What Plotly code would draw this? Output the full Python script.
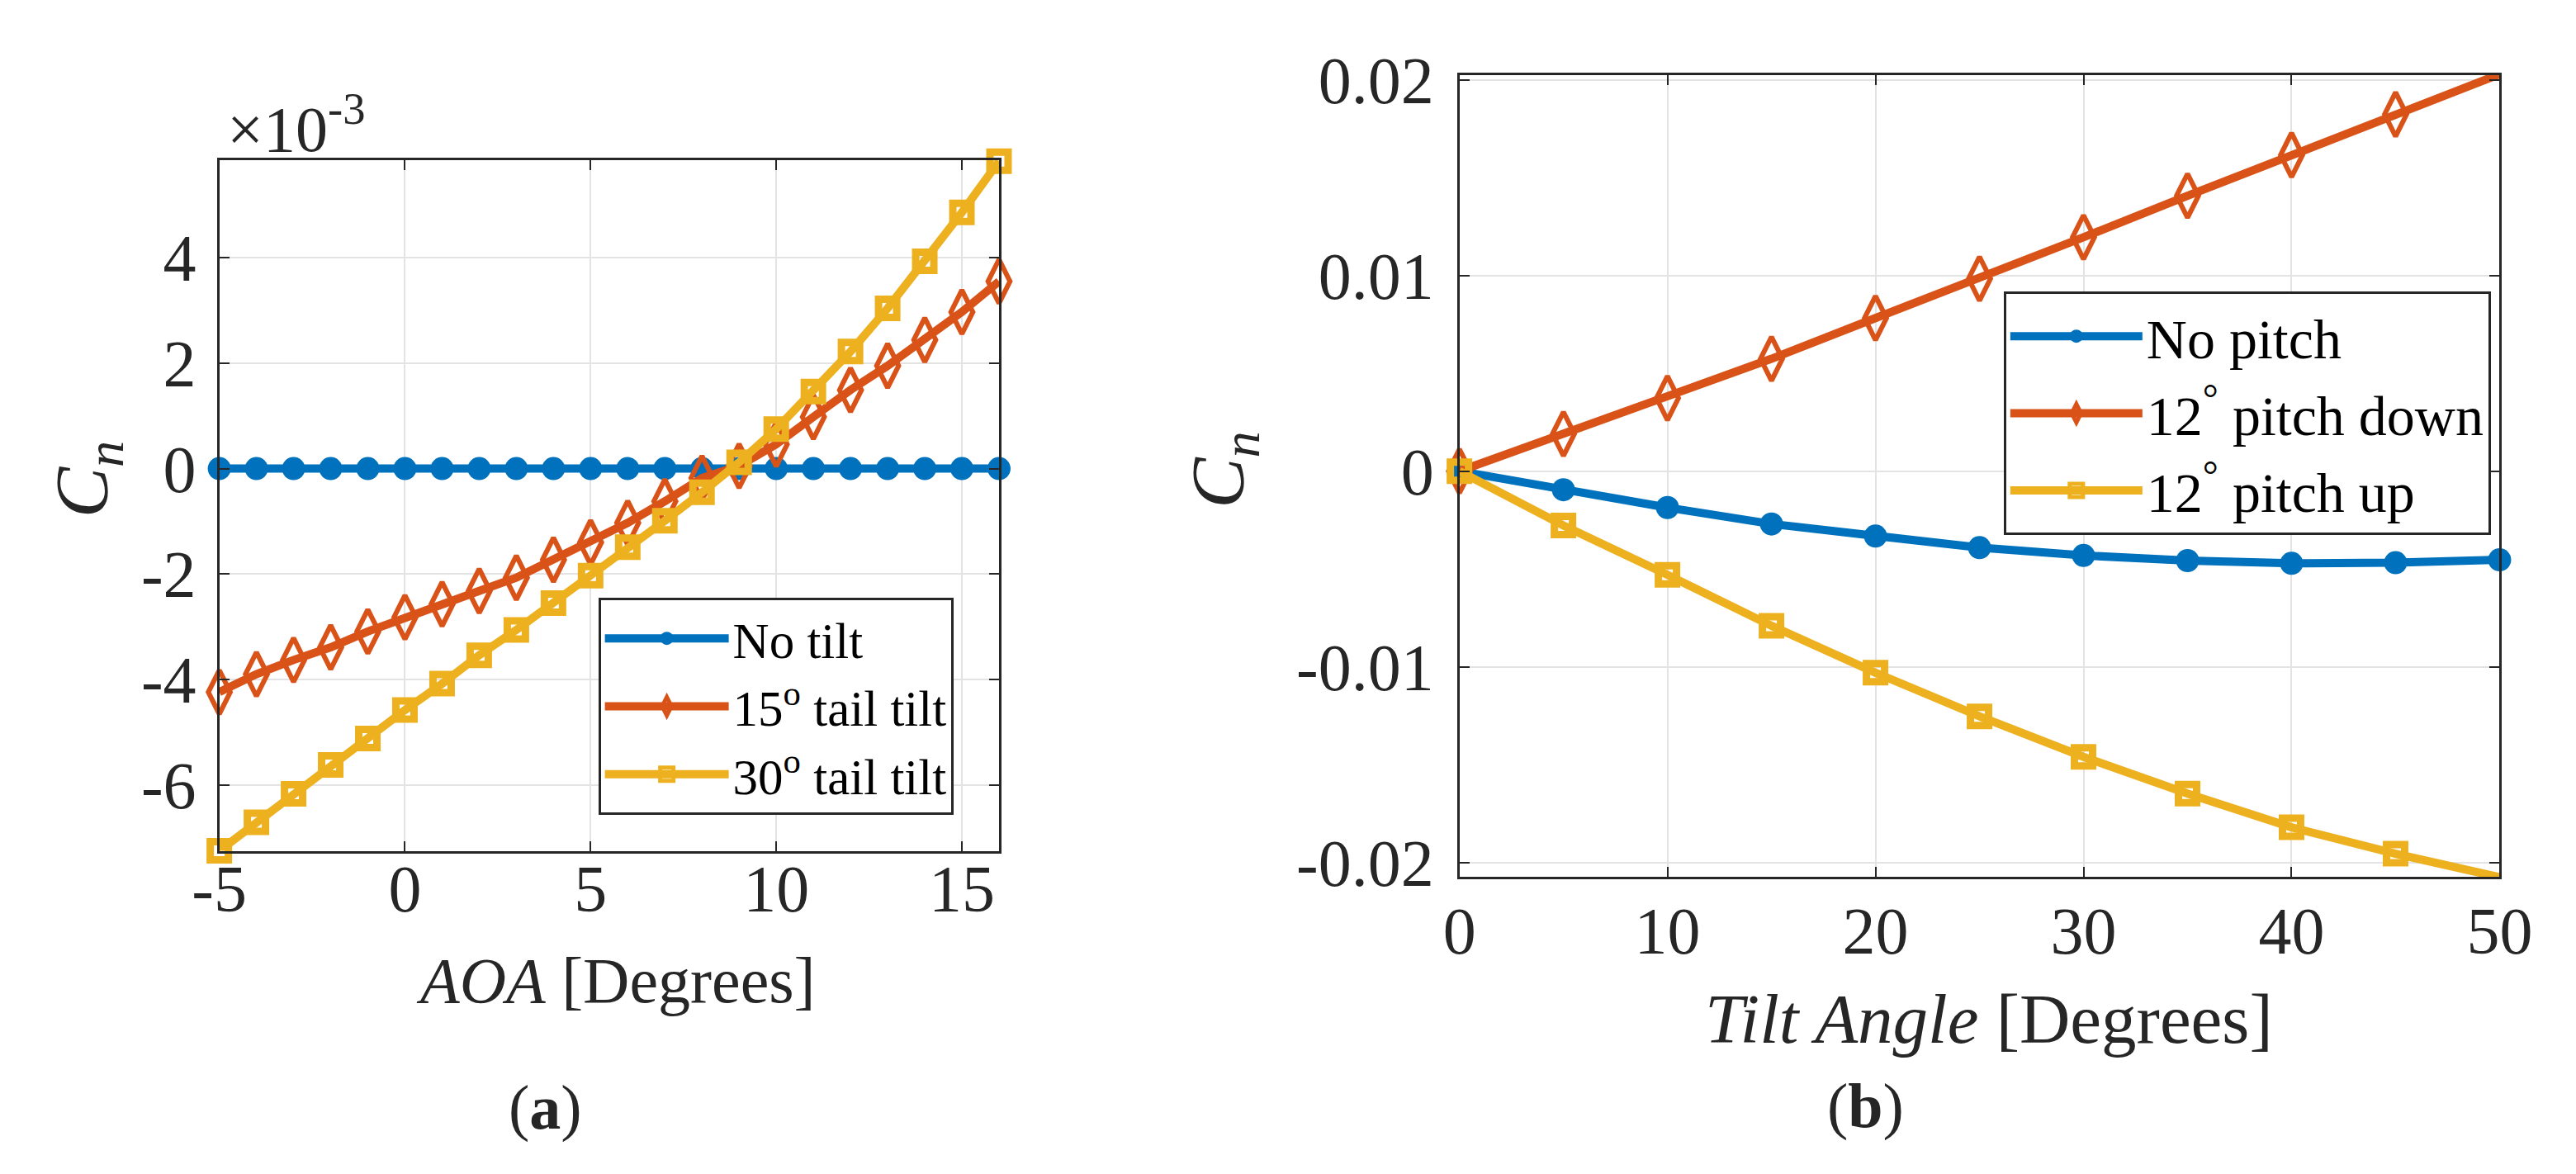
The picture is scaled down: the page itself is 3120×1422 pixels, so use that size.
import plotly.graph_objects as go

# ---- data: panel (a), Cn vs AOA (values in 1e-3) ----
aoa = [-5, -4, -3, -2, -1, 0, 1, 2, 3, 4, 5, 6, 7, 8, 9, 10, 11, 12, 13, 14, 15, 16]
cn_no_tilt = [0.0] * 22
cn_tilt15 = [-4.24, -3.90, -3.63, -3.39, -3.09, -2.82, -2.57, -2.32, -2.07, -1.73, -1.40,
             -1.03, -0.62, -0.18, 0.05, 0.46, 0.98, 1.49, 1.95, 2.44, 2.97, 3.55]
cn_tilt30 = [-7.25, -6.71, -6.17, -5.62, -5.12, -4.58, -4.08, -3.54, -3.06, -2.55, -2.03,
             -1.49, -0.99, -0.45, 0.12, 0.75, 1.46, 2.22, 3.04, 3.93, 4.86, 5.83]

# ---- data: panel (b), Cn vs tilt angle ----
tilt = [0, 5, 10, 15, 20, 25, 30, 35, 40, 45, 50]
cn_no_pitch = [0.0, -0.00095, -0.00186, -0.0027, -0.00332, -0.00391, -0.00431,
               -0.00457, -0.00471, -0.00468, -0.00453]
cn_pitch_down = [0.0, 0.0019, 0.00373, 0.00574, 0.00782, 0.00983, 0.01195,
                 0.01407, 0.01615, 0.01823, 0.02028]
cn_pitch_up = [0.0, -0.00278, -0.0053, -0.0079, -0.0103, -0.01253, -0.0146,
               -0.01648, -0.0182, -0.01955, -0.02075]

a_xticks = [-5, 0, 5, 10, 15]
a_yticks = [-6, -4, -2, 0, 2, 4]
b_xticks = [0, 10, 20, 30, 40, 50]
b_yticks = [-0.02, -0.01, 0, 0.01, 0.02]
b_ytext = ['-0.02', '-0.01', '0', '0.01', '0.02']

W, H = 3120, 1422
BLUE, RED, YELLOW = '#0072BD', '#D95319', '#EDB120'
SERIF = 'Liberation Serif, Times New Roman, serif'


def px_x(p):
    return p / W


def px_y(p):
    return 1 - p / H


fig = go.Figure()

def add_series(x, y, name, color, symbol, size, lw, xa, ya, legend):
    fig.add_trace(go.Scatter(
        x=x, y=y, name=name, mode='lines+markers',
        xaxis=xa, yaxis=ya, legend=legend, legendgroup=legend + name,
        line=dict(color=color, width=10),
        marker=dict(symbol=symbol, size=size, color=color,
                    line=dict(color=color, width=lw)),
        cliponaxis=False,
    ))

add_series(aoa, cn_no_tilt, 'No tilt', BLUE, 'circle', 28, 0, 'x', 'y', 'legend')
add_series(aoa, cn_tilt15, '15<sup>o</sup> tail tilt', RED, 'diamond-tall-open', 38, 6, 'x', 'y', 'legend')
add_series(aoa, cn_tilt30, '30<sup>o</sup> tail tilt', YELLOW, 'square-open', 22, 9, 'x', 'y', 'legend')

add_series(tilt, cn_no_pitch, 'No pitch', BLUE, 'circle', 28, 0, 'x2', 'y2', 'legend2')
add_series(tilt, cn_pitch_down, '12<sup>°</sup> pitch down', RED, 'diamond-tall-open', 38, 6, 'x2', 'y2', 'legend2')
add_series(tilt, cn_pitch_up, '12<sup>°</sup> pitch up', YELLOW, 'square-open', 22, 9, 'x2', 'y2', 'legend2')

axis_style = dict(
    showline=True, mirror='ticks', linecolor='#262626', linewidth=3,
    ticks='inside', ticklen=12, tickwidth=2, tickcolor='#262626',
    showgrid=True, gridcolor='#e3e3e3', gridwidth=2, zeroline=False,
    tickfont=dict(family=SERIF, size=80, color='#262626'),
)

fig.update_layout(
    width=W, height=H,
    margin=dict(l=0, r=0, t=0, b=0),
    plot_bgcolor='white', paper_bgcolor='white',
    font=dict(family=SERIF, color='#262626'),
    xaxis=dict(axis_style, domain=[px_x(230), px_x(1197)], range=[-5, 16],
               tickvals=a_xticks, ticktext=[str(v) for v in a_xticks],
               ticklabelstandoff=-26, anchor='y'),
    yaxis=dict(axis_style, domain=[px_y(1032), px_y(156)], range=[-7.25, 5.85],
               tickvals=a_yticks, ticktext=[str(v) for v in a_yticks],
               ticklabelstandoff=9, anchor='x'),
    xaxis2=dict(axis_style, domain=[px_x(1768), px_x(3058)], range=[0, 50],
                tickvals=b_xticks, ticktext=[str(v) for v in b_xticks],
                ticklabelstandoff=-6, anchor='y2'),
    yaxis2=dict(axis_style, domain=[px_y(1065), px_y(48)], range=[-0.02073, 0.02024],
                tickvals=b_yticks, ticktext=b_ytext,
                ticklabelstandoff=12, anchor='x2'),
    legend=dict(x=px_x(700), y=px_y(711), xanchor='left', yanchor='top',
                bgcolor='white', bordercolor='#262626', borderwidth=3,
                font=dict(family=SERIF, size=61, color='black'),
                itemwidth=150, tracegroupgap=0),
    legend2=dict(x=px_x(2443), y=px_y(323), xanchor='left', yanchor='top',
                 bgcolor='white', bordercolor='#262626', borderwidth=3,
                 font=dict(family=SERIF, size=68, color='black'),
                 itemwidth=160, tracegroupgap=2),
    showlegend=True,
)

annots = [
    dict(x=px_x(238), y=px_y(164), text='×10<sup>-3</sup>', xanchor='left', yanchor='bottom', size=78),
    dict(x=px_x(722), y=px_y(1196), text='<i>AOA</i> [Degrees]', xanchor='center', yanchor='middle', size=78),
    dict(x=px_x(2425), y=px_y(1245), text='<i>Tilt Angle</i> [Degrees]', xanchor='center', yanchor='middle', size=85),
    dict(x=px_x(634), y=px_y(1358), text='(<b>a</b>)', xanchor='center', yanchor='middle', size=76),
    dict(x=px_x(2272), y=px_y(1355), text='(<b>b</b>)', xanchor='center', yanchor='middle', size=76),
]
for a in annots:
    fig.add_annotation(x=a['x'], y=a['y'], xref='paper', yref='paper', text=a['text'],
                       xanchor=a['xanchor'], yanchor=a['yanchor'], showarrow=False,
                       font=dict(family=SERIF, size=a['size'], color='#262626'))

# y-axis labels, rotated
for xp, yp in [(66, 560), (1475, 548)]:
    fig.add_annotation(x=px_x(xp), y=px_y(yp), xref='paper', yref='paper',
                       text='<i>C<sub>n</sub></i>', textangle=-90, showarrow=False,
                       xanchor='center', yanchor='middle',
                       font=dict(family=SERIF, size=92, color='#262626'))

fig.write_html("out.html")
